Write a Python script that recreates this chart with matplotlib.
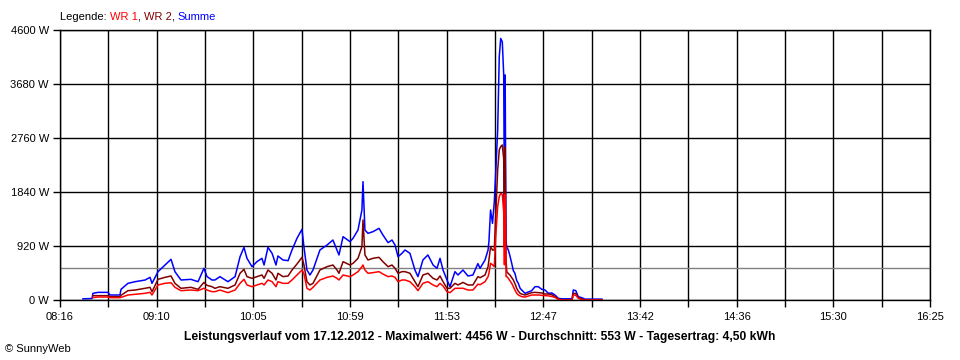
import numpy as np
import matplotlib
matplotlib.use("Agg")
import matplotlib.pyplot as plt

# ---- data (minutes after 08:16, watts) ----
minutes = [12.9, 18.0, 18.5, 21.4, 27.0, 28.1, 33.7, 34.3, 38.2, 42.2, 47.8, 50.6, 51.7, 55.1, 59.0,
           62.4, 64.6, 68.0, 73.6, 77.6, 80.9, 82.6, 85.4, 87.1, 89.9, 94.4, 98.4, 101.2, 103.4, 105.1,
           107.9, 110.7, 113.5, 114.7, 116.9, 119.2, 121.4, 122.5, 125.3, 128.2, 130.4, 133.2, 136.0,
           137.1, 138.8, 140.5, 142.2, 146.1, 150.1, 153.4, 155.7, 156.8, 159.1, 163.0, 164.7, 167.5,
           169.7, 170.3, 171.4, 173.1, 175.9, 179.3, 181.5, 184.4, 186.6, 188.3, 190.0, 192.2, 193.9,
           196.7, 199.5, 201.2, 204.0, 206.8, 209.7, 211.9, 213.6, 215.3, 217.5, 219.2, 222.0, 223.7,
           226.5, 229.3, 232.1, 234.9, 236.1, 238.9, 240.6, 241.1, 242.0, 243.1, 244.1, 244.9, 246.0,
           246.9, 247.7, 248.6, 249.4, 249.8, 250.2, 250.7, 251.1, 252.0, 252.9, 253.9, 254.8, 255.7,
           256.7, 257.6, 258.6, 259.5, 261.4, 265.1, 267.0, 268.8, 270.8, 272.6, 274.5, 276.4, 278.2,
           280.1, 282.2, 287.8, 288.5, 289.9, 291.3, 293.2, 295.1, 304.6]

summe = [20, 25, 113, 130, 130, 85, 85, 182, 284, 312, 340, 386, 284, 483, 596,
         693, 483, 341, 352, 312, 540, 400, 341, 341, 398, 312, 398, 738, 897, 710,
         568, 653, 710, 596, 897, 795, 596, 750, 682, 670, 852, 1051, 1204,
         909, 511, 426, 511, 852, 937, 1022, 852, 767, 1079, 994, 1051, 1193,
         1534, 2016, 1193, 1136, 1164, 1221, 1108, 977, 1022, 937, 738, 795, 852,
         795, 511, 398, 682, 767, 596, 540, 710, 511, 341, 227, 483, 426,
         511, 409, 426, 620, 540, 682, 852, 1000, 1534, 1306, 1675, 2159, 2897,
         4146, 4456, 4400, 3834, 1500, 3834, 1000, 900, 852, 750, 625, 500, 455,
         330, 284, 200, 170, 114, 159, 227, 227, 182, 170, 114, 120, 85,
         28, 20, 20, 170, 160, 57, 40, 15, 15]

wr2 = [np.nan, np.nan, 74, 74, 74, 57, 57, 80, 159, 170, 199, 216, 141, 352, 386,
       409, 284, 199, 216, 182, 300, 250, 227, 199, 227, 199, 256, 455, 523, 398,
       369, 398, 426, 369, 511, 455, 341, 455, 398, 409, 511, 613, 727,
       600, 312, 256, 284, 511, 568, 596, 511, 455, 653, 596, 625, 710,
       909, 1363, 767, 682, 710, 727, 653, 568, 596, 540, 455, 483, 483,
       455, 312, 227, 426, 455, 369, 341, 409, 312, 199, 199, 284, 256,
       300, 256, 256, 398, 380, 426, 568, 682, 909, 850, 852, 1420, 2215,
       2556, 2613, 2641, 2400, 900, 2600, 700, 483, 450, 426, 380, 341, 280,
       199, 150, 114, 100, 85, 125, 130, 125, 120, 102, 102, 90, 57,
       20, 0, 0, 114, 110, 40, 20, 0, 0]

wr1 = [np.nan, np.nan, 40, 51, 51, 40, 40, 45, 85, 97, 114, 131, 85, 256, 284,
       295, 216, 159, 170, 159, 200, 170, 142, 142, 170, 125, 170, 284, 352, 256,
       227, 256, 284, 256, 341, 312, 227, 312, 284, 284, 341, 426, 511,
       450, 199, 170, 216, 341, 386, 409, 369, 341, 426, 398, 426, 483,
       568, 596, 511, 455, 466, 483, 443, 398, 409, 386, 312, 341, 341,
       312, 227, 159, 284, 312, 256, 227, 284, 239, 142, 125, 199, 199,
       200, 170, 170, 270, 260, 312, 398, 455, 625, 600, 568, 1079, 1590,
       1760, 1818, 1800, 1500, 600, 1800, 400, 400, 369, 330, 284, 227, 170,
       114, 85, 70, 57, 50, 85, 85, 85, 80, 75, 70, 60, 45,
       10, 0, 0, 85, 80, 30, 10, 0, 0]

average = 553
x_labels = ["08:16", "09:10", "10:05", "10:59", "11:53", "12:47", "13:42", "14:36", "15:30", "16:25"]
y_labels = ["0 W", "920 W", "1840 W", "2760 W", "3680 W", "4600 W"]
y_values = [0, 920, 1840, 2760, 3680, 4600]
span_minutes = 489  # 08:16 -> 16:25

title = ("Leistungsverlauf vom 17.12.2012 - Maximalwert: 4456 W - "
         "Durchschnitt: 553 W - Tagesertrag: 4,50 kWh")

# ---- figure ----
plt.rcParams['font.family'] = ['Liberation Sans', 'DejaVu Sans']
fig = plt.figure(figsize=(9.6, 3.6), dpi=100)
ax = fig.add_axes([60/960, 60/360, 870/960, 270/360])

ax.set_xlim(0, span_minutes)
ax.set_ylim(0, 4600)

# grid
major_x = np.linspace(0, span_minutes, 10)
minor_x = np.linspace(0, span_minutes, 19)
for xv in minor_x:
    ax.axvline(xv, color='black', lw=1.0, zorder=1)
for yv in y_values:
    ax.axhline(yv, color='black', lw=1.0, zorder=1)
ax.axhline(average, color='#808080', lw=1.0, zorder=2)

m = np.array(minutes)
ax.plot(m, summe, color='#0000FF', lw=1.1, zorder=3)
ax.plot(m, wr2, color='#800000', lw=1.1, zorder=4)
ax.plot(m, wr1, color='#FF0000', lw=1.1, zorder=5)

ax.set_xticks(major_x)
ax.set_xticklabels(x_labels, fontsize=8)
ax.set_xticks(minor_x, minor=True)
ax.set_yticks(y_values)
ax.set_yticklabels(y_labels, fontsize=8)
ax.tick_params(axis='x', which='both', direction='out', length=5, width=1, colors='black', pad=4)
ax.tick_params(axis='y', direction='out', length=5, width=1, colors='black', pad=3)
for s in ax.spines.values():
    s.set_color('black')
    s.set_linewidth(1.0)
    s.set_zorder(6)

# bottom texts
fig.text(480/960, 1 - 337/360, title, ha='center', va='center', fontsize=8.7, fontweight='bold')
fig.text(5/960, 1 - 349/360, "\u00a9 SunnyWeb", ha='left', va='center', fontsize=8)

# legend line
renderer = fig.canvas.get_renderer()
xpix = 60
parts = [("Legende: ", 'black'), ("WR 1", '#FF0000'), (", ", 'black'),
         ("WR 2", '#800000'), (", ", 'black'), ("Summe", '#0000FF')]
for txt, col in parts:
    t = fig.text(xpix/960, 1 - 17/360, txt, color=col, fontsize=8, ha='left', va='center')
    bb = t.get_window_extent(renderer=renderer)
    xpix += bb.width

fig.savefig("out.png", dpi=100)
